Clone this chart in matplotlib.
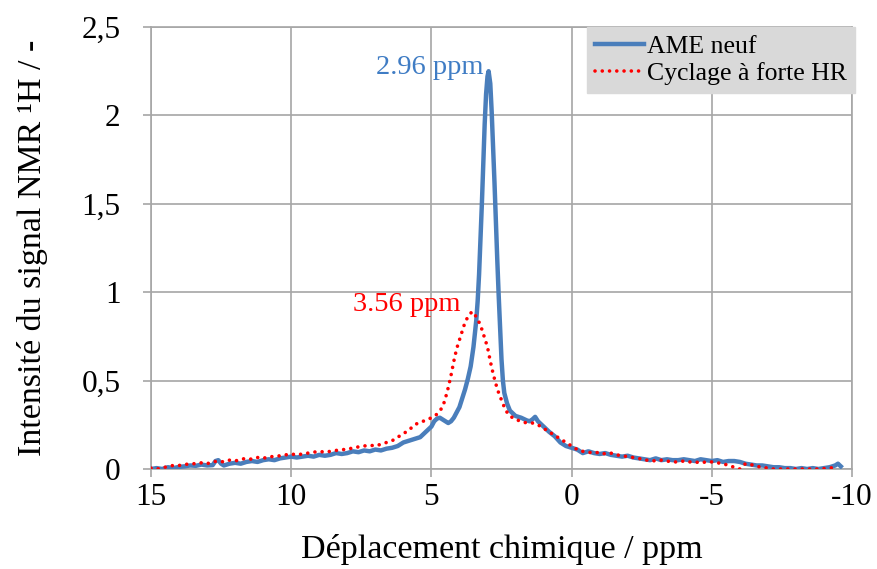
import matplotlib
matplotlib.use("Agg")
import matplotlib.pyplot as plt
from matplotlib.ticker import FuncFormatter

# ---------------- data ----------------
x_blue = [15.0, 14.8, 14.6, 14.4, 14.2, 14.0, 13.8, 13.6, 13.4, 13.2, 13.0, 12.8, 12.7, 12.6, 12.5,
          12.4, 12.2, 12.0, 11.8, 11.6, 11.4, 11.2, 11.0, 10.8, 10.6, 10.4, 10.2, 10.0, 9.8, 9.6,
          9.4, 9.2, 9.0, 8.8, 8.6, 8.4, 8.2, 8.0, 7.8, 7.6, 7.4, 7.2, 7.0, 6.8, 6.6, 6.4, 6.2, 6.0,
          5.8, 5.6, 5.4, 5.2, 5.0, 4.9, 4.8, 4.7, 4.6, 4.5, 4.4, 4.3, 4.2, 4.1, 4.0, 3.9, 3.8, 3.7,
          3.6, 3.5, 3.4, 3.35, 3.3, 3.25, 3.2, 3.15, 3.1, 3.05, 3.0, 2.96, 2.9, 2.85, 2.8, 2.75,
          2.7, 2.65, 2.6, 2.55, 2.5, 2.45, 2.4, 2.3, 2.2, 2.0, 1.8, 1.6, 1.5, 1.4, 1.3, 1.2, 1.0,
          0.8, 0.6, 0.4, 0.2, 0.0, -0.2, -0.4, -0.6, -0.8, -1.0, -1.2, -1.4, -1.6, -1.8, -2.0,
          -2.2, -2.4, -2.6, -2.8, -3.0, -3.2, -3.4, -3.6, -3.8, -4.0, -4.2, -4.4, -4.6, -4.8,
          -5.0, -5.2, -5.4, -5.6, -5.8, -6.0, -6.2, -6.4, -6.6, -6.8, -7.0, -7.2, -7.4, -7.6,
          -7.8, -8.0, -8.2, -8.4, -8.6, -8.8, -9.0, -9.2, -9.4, -9.5, -9.6]
y_blue = [0.0, 0.005, 0.0, 0.01, 0.005, 0.012, 0.015, 0.02, 0.018, 0.025, 0.02, 0.022, 0.045, 0.05, 0.03,
          0.02, 0.03, 0.035, 0.03, 0.04, 0.045, 0.04, 0.05, 0.055, 0.05, 0.06, 0.065, 0.07, 0.065, 0.07,
          0.075, 0.07, 0.08, 0.075, 0.08, 0.09, 0.085, 0.09, 0.10, 0.095, 0.105, 0.10, 0.11, 0.105, 0.115, 0.12, 0.13, 0.15,
          0.16, 0.17, 0.18, 0.21, 0.24, 0.27, 0.285, 0.29, 0.28, 0.27, 0.26, 0.27, 0.29, 0.32, 0.35, 0.40, 0.45, 0.51,
          0.58, 0.69, 0.84, 0.95, 1.10, 1.30, 1.50, 1.72, 1.95, 2.12, 2.22, 2.25, 2.18, 2.02, 1.82, 1.62,
          1.40, 1.18, 0.98, 0.80, 0.62, 0.50, 0.43, 0.37, 0.33, 0.30, 0.29, 0.275, 0.27, 0.28, 0.295, 0.27, 0.24,
          0.21, 0.185, 0.15, 0.13, 0.12, 0.11, 0.09, 0.10, 0.09, 0.085, 0.09, 0.08, 0.075, 0.07, 0.075,
          0.065, 0.06, 0.055, 0.05, 0.06, 0.05, 0.055, 0.05, 0.05, 0.055, 0.05, 0.045, 0.055, 0.05,
          0.045, 0.05, 0.04, 0.045, 0.045, 0.04, 0.03, 0.025, 0.02, 0.02, 0.015, 0.01, 0.01, 0.005,
          0.005, 0.0, 0.005, 0.0, 0.005, 0.0, 0.005, 0.01, 0.02, 0.03, 0.015]

x_red = [15.0, 14.8, 14.6, 14.4, 14.2, 14.0, 13.8, 13.6, 13.4, 13.2, 13.0, 12.8, 12.6, 12.4, 12.2,
         12.0, 11.8, 11.6, 11.4, 11.2, 11.0, 10.8, 10.6, 10.4, 10.2, 10.0, 9.8, 9.6, 9.4, 9.2, 9.0,
         8.8, 8.6, 8.4, 8.2, 8.0, 7.8, 7.6, 7.4, 7.2, 7.0, 6.8, 6.6, 6.4, 6.2, 6.0, 5.8, 5.6, 5.4,
         5.2, 5.0, 4.8, 4.6, 4.5, 4.4, 4.3, 4.2, 4.1, 4.0, 3.9, 3.8, 3.7, 3.6, 3.56, 3.5, 3.4, 3.3,
         3.2, 3.1, 3.0, 2.9, 2.8, 2.7, 2.6, 2.5, 2.4, 2.3, 2.2, 2.0, 1.8, 1.6, 1.4, 1.2, 1.0, 0.8,
         0.6, 0.4, 0.2, 0.0, -0.2, -0.4, -0.6, -0.8, -1.0, -1.2, -1.4, -1.6, -1.8, -2.0, -2.2,
         -2.4, -2.6, -2.8, -3.0, -3.2, -3.4, -3.6, -3.8, -4.0, -4.2, -4.4, -4.6, -4.8, -5.0, -5.2,
         -5.4, -5.6, -5.8, -6.0, -6.2, -6.4, -6.6, -6.8, -7.0, -7.2, -7.4, -7.6, -7.8, -8.0, -8.4,
         -8.8, -9.2, -9.4]
y_red = [0.005, 0.0, 0.005, 0.015, 0.02, 0.02, 0.025, 0.03, 0.03, 0.035, 0.03, 0.04, 0.045, 0.04, 0.05,
         0.045, 0.055, 0.06, 0.055, 0.065, 0.06, 0.07, 0.07, 0.075, 0.08, 0.085, 0.08, 0.085, 0.09, 0.095, 0.10,
         0.095, 0.10, 0.105, 0.11, 0.11, 0.12, 0.125, 0.13, 0.135, 0.13, 0.14, 0.15, 0.16, 0.18, 0.20, 0.22, 0.25, 0.265,
         0.275, 0.29, 0.31, 0.35, 0.40, 0.46, 0.53, 0.61, 0.68, 0.73, 0.78, 0.83, 0.86, 0.88, 0.89, 0.885, 0.86, 0.83,
         0.79, 0.74, 0.69, 0.61, 0.54, 0.48, 0.43, 0.39, 0.35, 0.32, 0.30, 0.28, 0.27, 0.26, 0.26, 0.25, 0.23, 0.21,
         0.19, 0.17, 0.15, 0.13, 0.11, 0.10, 0.095, 0.09, 0.095, 0.085, 0.09, 0.08, 0.075, 0.07, 0.065,
         0.06, 0.05, 0.05, 0.045, 0.05, 0.045, 0.04, 0.04, 0.045, 0.04, 0.04, 0.035, 0.04, 0.04, 0.035,
         0.03, 0.02, 0.01, 0.0, 0.03, 0.025, 0.015, 0.01, 0.005, 0.0, 0.0, 0.0, 0.0, 0.0, 0.0,
         0.0, 0.005, 0.01]

series_names = ["AME neuf", "Cyclage à forte HR"]
peak_labels = ["2.96 ppm", "3.56 ppm"]
x_ticks = [15, 10, 5, 0, -5, -10]
y_ticks = [0, 0.5, 1, 1.5, 2, 2.5]

# ---------------- style ----------------
plt.rcParams['font.family'] = ['Liberation Serif', 'DejaVu Serif']
BLUE = "#4A7EBB"
RED = "#FF0000"
GRID = "#A6A6A6"

fig = plt.figure(figsize=(8.78, 5.69), dpi=100)
ax = fig.add_axes([151/878, 1 - 469/569, (852 - 151)/878, (469 - 27)/569])

ax.plot(x_blue, y_blue, color=BLUE, lw=3.2, solid_joinstyle='round', label=series_names[0], zorder=3)
ax.plot(x_red, y_red, color=RED, lw=2.6, linestyle=(0, (0.01, 2.0)), dash_capstyle='round',
        label=series_names[1], zorder=4)

ax.set_xlim(15, -10)
ax.set_ylim(0, 2.5)
ax.set_xticks(x_ticks)
ax.set_yticks(y_ticks)

def fmt(v, pos):
    s = ("%g" % v).replace(".", ",")
    return s

ax.xaxis.set_major_formatter(FuncFormatter(fmt))
ax.yaxis.set_major_formatter(FuncFormatter(fmt))
ax.tick_params(axis='both', labelsize=22.5, color=GRID, length=6, width=1.2, pad=4)
ax.tick_params(axis='y', pad=16)

ax.grid(True, color=GRID, lw=1.2)
ax.set_axisbelow(True)
for s in ax.spines.values():
    s.set_color(GRID)
    s.set_linewidth(1.2)

ax.set_xlabel("Déplacement chimique / ppm", fontsize=24.5, labelpad=16)
ax.set_ylabel("Intensité du signal NMR ¹H / -", fontsize=24.5, labelpad=24)

ax.text(3.14, 2.27, peak_labels[0], color="#3F7CC4", fontsize=20.5, ha='right', va='center')
ax.text(3.96, 0.93, peak_labels[1], color=RED, fontsize=20.5, ha='right', va='center')

leg = ax.legend(loc='upper right', bbox_to_anchor=(1.004, 1.0), fontsize=18.5, frameon=True,
                fancybox=False, framealpha=1, facecolor='#D9D9D9', edgecolor='#D9D9D9',
                borderaxespad=0, handlelength=1.9, handletextpad=0.1, labelspacing=0.15,
                borderpad=0.32)
leg.set_zorder(10)

fig.savefig("out.png", dpi=100)
